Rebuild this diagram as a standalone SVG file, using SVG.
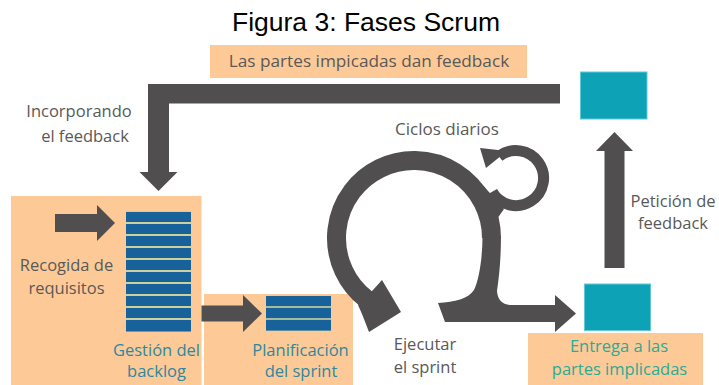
<svg xmlns="http://www.w3.org/2000/svg" width="719" height="385" viewBox="0 0 719 385">
<style>
.box{fill:#fdca97}
.sq{fill:#0ea2b7;stroke:#63c7d6;stroke-width:1}
.bar{fill:#17629a}
.sep{fill:#cfd09c}
.arr{fill:#514e4f}
.ring{fill:none;stroke:#514e4f}
.t{font-family:"Open Sans","Noto Sans",sans-serif;font-size:16.5px;fill:#595959;text-anchor:middle}
.tb{fill:#2e87a0}
.tg{fill:#28ab97}
.title{font-family:"Liberation Sans",Arial,sans-serif;font-size:26.5px;fill:#000;text-anchor:middle}
</style>
<rect width="719" height="385" fill="#fff"/>
<text class="title" x="366" y="31">Figura 3: Fases Scrum</text>

<g id="feedback-box">
<rect class="box" x="210" y="45" width="317" height="33"/>
<text class="t" x="369" y="67" style="font-size:17.2px">Las partes impicadas dan feedback</text>
</g>
<g id="incorporando-label">
<text class="t" x="79" y="117">Incorporando</text>
<text class="t" x="85" y="142">el feedback</text>
</g>
<g id="stakeholders-top">
<rect class="sq" x="580.5" y="72" width="66.5" height="47"/>
</g>
<g id="backlog">
<rect class="box" x="11" y="196" width="190.5" height="190"/>
<rect class="sep" x="126" y="211" width="65" height="121"/>
<g class="bar">
<rect x="126" y="212" width="65" height="10"/>
<rect x="126" y="224" width="65" height="10"/>
<rect x="126" y="236" width="65" height="10"/>
<rect x="126" y="248" width="65" height="10"/>
<rect x="126" y="260" width="65" height="10"/>
<rect x="126" y="272" width="65" height="10"/>
<rect x="126" y="284" width="65" height="10"/>
<rect x="126" y="296" width="65" height="10"/>
<rect x="126" y="308" width="65" height="10"/>
<rect x="126" y="320" width="65" height="11.5"/>
</g>
<text class="t" x="66.5" y="271">Recogida de</text>
<text class="t" x="66.5" y="294">requisitos</text>
<text class="t tb" x="156.5" y="356">Gestión del</text>
<text class="t tb" x="156.5" y="377">backlog</text>
</g>
<g id="sprint-planning">
<rect class="box" x="204" y="294" width="149" height="92"/>
<rect class="sep" x="266" y="295.5" width="65" height="35.5"/>
<g class="bar">
<rect x="266" y="296" width="65" height="10.2"/>
<rect x="266" y="307.8" width="65" height="10.4"/>
<rect x="266" y="319.8" width="65" height="10.8"/>
</g>
<text class="t tb" x="300.5" y="356">Planificación</text>
<text class="t tb" x="301" y="377">del sprint</text>
</g>
<g id="execute-sprint">
<text class="t" x="447" y="135" style="font-size:17px">Ciclos diarios</text>
<text class="t" x="425" y="350">Ejecutar</text>
<text class="t" x="425" y="373">el sprint</text>
</g>
<g id="delivery">
<rect class="sq" x="584.5" y="284" width="66" height="46.5"/>
<rect class="box" x="528" y="333" width="175" height="53"/>
<text class="t tg" x="619" y="352">Entrega a las</text>
<text class="t tg" x="619.5" y="375">partes implicadas</text>
</g>
<g id="peticion-label">
<text class="t" x="673" y="207">Petición de</text>
<text class="t" x="673" y="229">feedback</text>
</g>

<g id="connectors">
<path class="arr" d="M148,84 L560,84 L560,103.5 L169,103.5 L169,172 L177.5,172 L158.5,191 L139.5,172 L148,172 Z"/>
<path class="arr" d="M604.5,268 L604.5,151 L596,151 L614.5,132 L633,151 L624.5,151 L624.5,268 Z"/>
<path class="arr" d="M55,214 L97,214 L97,205 L115,223 L97,241 L97,232 L55,232 Z"/>
<path class="arr" d="M201.5,305.5 L243,305.5 L243,295 L262,313.5 L243,332 L243,321.5 L201.5,321.5 Z"/>
<g id="sprint-cycle">
<path class="ring" stroke-width="19" d="M366.3,299.1 A77.5,77.5 0 1 1 491.5,238"/>
<path class="arr" d="M373,290 L382,280 L401,312 L369,332 L362,314 L358,305 Z"/>
<path class="arr" d="M482.5,236 L501,236 C501,258 499,278 497,291 Q498,305 512,305 L555,305 L555,295 L576,313.5 L555,332 L555,322 L445,322 L438,303 C455,302 468,299 474,290 C479,280 482.5,258 482.5,236 Z"/>
<path class="ring" stroke-width="11" d="M492.2,191.75 A27.5,27.5 0 1 0 499,156.5"/>
<path class="arr" d="M481,183 L504,209 L497,219 L478,195 Z"/>
<path class="arr" d="M480,148 L507,151 L486,168 Z"/>
</g>
</g>
</svg>
